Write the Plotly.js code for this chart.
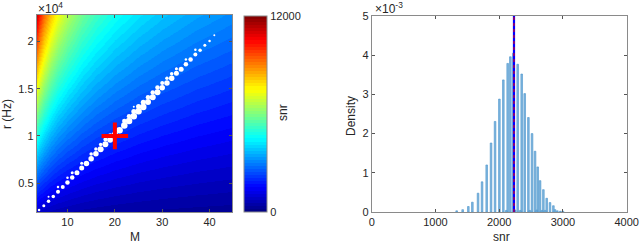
<!DOCTYPE html>
<html>
<head>
<meta charset="utf-8">
<script src="https://cdn.plot.ly/plotly-3.0.1.min.js"></script>
<style>html,body{margin:0;padding:0;background:#fff;}#chart{width:640px;height:245px;}</style>
</head>
<body>
<div id="chart"></div>
<script>
// ---- Left panel: snr map over (M, r) ----
const heatM = [3.5, 4, 5, 6.5, 8, 10, 13, 16, 20, 25, 30, 37, 44.8];
const heatR = [1930, 12375, 22820];
const heatSnr = [
  [943, 882, 789, 692, 624, 558, 489, 441, 394, 353, 322, 290, 264],
  [6046, 5655, 5058, 4436, 4000, 3577, 3137, 2828, 2529, 2262, 2065, 1859, 1690],
  [11148, 10428, 9327, 8180, 7375, 6596, 5784, 5214, 4664, 4171, 3807, 3429, 3116]
];

// posterior samples (main streak)
const mainM = [4,5,6,7,8,9,10,11,12,13,14,15,16,17,18,19,20,21,22,23,24,25,26,27,28,29,30,31,32,33,34,35,36,37,38,39,40,41];
const mainR = [2150,2600,3060,3580,4080,4580,5060,5590,6090,6590,7070,7570,8100,8590,9120,9580,10100,10600,11090,11590,12080,12610,13070,13590,14090,14620,15100,15600,16100,16630,17080,17610,18100,18640,19090,19620,20070,20670];
const mainSize = [2.5,3,3.5,3.5,4,4,4.5,4.5,5,5,5.5,5.5,5.5,6,6,6,6.5,6.5,6.5,6.5,6.5,6.5,6.5,6,6,6,5.5,5.5,5.5,5,5,4.5,4.5,4,3.5,3,2.5,2];

// posterior samples (secondary streak)
const sideM = [6,8,10,11,13,15,16,17,18,19,22,23,24,25,26,27,28,29,30,31,32,33,35,37,24,28,31,33];
const sideR = [3560,4580,5560,6090,7090,8070,8600,9090,9620,10080,11590,12090,12580,13110,13570,14090,14590,15120,15600,16100,16600,17130,18110,19140,13080,14590,16100,17130];
const sideSize = [2,2.5,2.5,3,3,3.5,3.5,3.5,4,4,4.5,4.5,5,5,5,4.5,4.5,4.5,4,3.5,3.5,3,2.5,2.5,2,2,2,2];

const trueM = [20];
const trueR = [10000];

// ---- Right panel: snr histogram (density) ----
const binSnr = [1333,1427,1516,1579,1668,1731,1804,1872,1935,2003,2065,2133,2175,2222,2290,2353,2400,2458,2515,2562,2604,2641,2693,2745,2797,2850,2876,2912,2960,3000,
                2110,2250,2330,2480,2590,2670,2720];
const binDensity = [0.00003,0.00006,0.00014,0.00025,0.00048,0.00077,0.0012,0.00176,0.00231,0.00288,0.00337,0.00379,0.00396,0.00405,0.00377,0.00352,0.00302,0.00241,0.0020,0.00155,0.00115,0.0008,0.00057,0.00035,0.00024,0.00016,0.00006,0.00003,0.00002,0.00002,
                    0.00004,0.00005,0.00004,0.00004,0.00005,0.00004,0.00004];
const meanSnr = 2232;
const vlineY = [0, 0.005];

// MATLAB jet(64) as a stepped colorscale (style only)
function jet(t){
  const c = v => Math.round(255*Math.max(0, Math.min(1, v)));
  return 'rgb(' + c(1.5-Math.abs(4*t-3)) + ',' + c(1.5-Math.abs(4*t-2)) + ',' + c(1.5-Math.abs(4*t-1)) + ')';
}
const jetScale = [];
for (let k = 0; k < 64; k++) {
  const col = jet((k + 0.5) / 64);
  jetScale.push([k/64, col]);
  jetScale.push([(k+1)/64, col]);
}

const W = 640, H = 245;
const px = v => v / W, py = v => 1 - v / H;
const axisCommon = {
  ticks: 'inside', ticklen: 3, tickcolor: '#555', showline: true, linecolor: '#8a8a8a', linewidth: 1,
  mirror: 'ticks', showgrid: false, zeroline: false, tickfont: {size: 11, color: '#262626'}
};

const traces = [
  {type: 'heatmap', x: heatM, y: heatR, z: heatSnr, zsmooth: 'best', zmin: 0, zmax: 12000,
   colorscale: jetScale, xaxis: 'x', yaxis: 'y', hoverinfo: 'skip',
   colorbar: {x: px(244), xanchor: 'left', y: py(114), yanchor: 'middle', len: 196/H, lenmode: 'fraction',
              thickness: 23, thicknessmode: 'pixels', xpad: 0, ypad: 0, outlinewidth: 1, outlinecolor: '#8a8a8a',
              tickvals: [0, 12000], ticktext: ['0', '12000'], ticks: '', tickfont: {size: 11, color: '#262626'}}},
  {type: 'scatter', mode: 'markers', x: mainM, y: mainR, xaxis: 'x', yaxis: 'y',
   marker: {color: '#ffffff', opacity: 1, size: mainSize, line: {width: 0}}, hoverinfo: 'skip'},
  {type: 'scatter', mode: 'markers', x: sideM, y: sideR, xaxis: 'x', yaxis: 'y',
   marker: {color: '#ffffff', opacity: 1, size: sideSize, line: {width: 0}}, hoverinfo: 'skip'},
  {type: 'scatter', mode: 'markers', x: trueM, y: trueR, xaxis: 'x', yaxis: 'y',
   marker: {symbol: 'cross-thin-open', size: 19, color: '#ff0000', line: {width: 4, color: '#ff0000'}}, hoverinfo: 'skip'},
  {type: 'bar', x: binSnr, y: binDensity, width: 26, xaxis: 'x2', yaxis: 'y2',
   marker: {color: '#7fb6df', line: {color: '#4a94cb', width: 0.6}}, hoverinfo: 'skip'},
  {type: 'scatter', mode: 'lines', x: [meanSnr, meanSnr], y: vlineY, xaxis: 'x2', yaxis: 'y2',
   line: {color: '#0000ff', width: 2.2}, hoverinfo: 'skip'},
  {type: 'scatter', mode: 'lines', x: [meanSnr, meanSnr], y: vlineY, xaxis: 'x2', yaxis: 'y2',
   line: {color: '#ff0000', width: 1, dash: 'dot'}, hoverinfo: 'skip'}
];

const layout = {
  width: W, height: H, margin: {l: 0, r: 0, t: 0, b: 0},
  paper_bgcolor: 'white', plot_bgcolor: 'white', showlegend: false,
  font: {family: 'Liberation Sans, Arial, Helvetica, sans-serif', size: 11, color: '#262626'},
  xaxis: Object.assign({}, axisCommon, {domain: [px(36.7), px(232.3)], range: [3.5, 44.8], tickvals: [10, 20, 30, 40], anchor: 'y'}),
  yaxis: Object.assign({}, axisCommon, {domain: [py(212), py(15)], range: [1930, 22820],
         tickvals: [5000, 10000, 15000, 20000], ticktext: ['0.5', '1', '1.5', '2'], anchor: 'x'}),
  xaxis2: Object.assign({}, axisCommon, {domain: [px(371.7), px(626.7)], range: [0, 4000], tickvals: [0, 1000, 2000, 3000, 4000], anchor: 'y2'}),
  yaxis2: Object.assign({}, axisCommon, {domain: [py(212), py(16)], range: [0, 0.005],
         tickvals: [0, 0.001, 0.002, 0.003, 0.004, 0.005], ticktext: ['0', '1', '2', '3', '4', '5'], anchor: 'x2'}),
  annotations: [
    {text: 'M', xref: 'paper', yref: 'paper', x: px(135), y: py(237), xanchor: 'center', yanchor: 'middle', showarrow: false, font: {size: 12}},
    {text: 'r (Hz)', xref: 'paper', yref: 'paper', x: px(7), y: py(114), xanchor: 'center', yanchor: 'middle', textangle: -90, showarrow: false, font: {size: 12}},
    {text: 'snr', xref: 'paper', yref: 'paper', x: px(283), y: py(113), xanchor: 'center', yanchor: 'middle', textangle: -90, showarrow: false, font: {size: 12}},
    {text: '×10<sup>4</sup>', xref: 'paper', yref: 'paper', x: px(36), y: py(8), xanchor: 'left', yanchor: 'middle', showarrow: false, font: {size: 12}},
    {text: 'Density', xref: 'paper', yref: 'paper', x: px(351), y: py(116), xanchor: 'center', yanchor: 'middle', textangle: -90, showarrow: false, font: {size: 12}},
    {text: 'snr', xref: 'paper', yref: 'paper', x: px(501.7), y: py(237), xanchor: 'center', yanchor: 'middle', showarrow: false, font: {size: 12}},
    {text: '×10<sup>-3</sup>', xref: 'paper', yref: 'paper', x: px(373), y: py(8), xanchor: 'left', yanchor: 'middle', showarrow: false, font: {size: 12}}
  ]
};

Plotly.newPlot('chart', traces, layout, {displayModeBar: false, staticPlot: true});
</script>
</body>
</html>
